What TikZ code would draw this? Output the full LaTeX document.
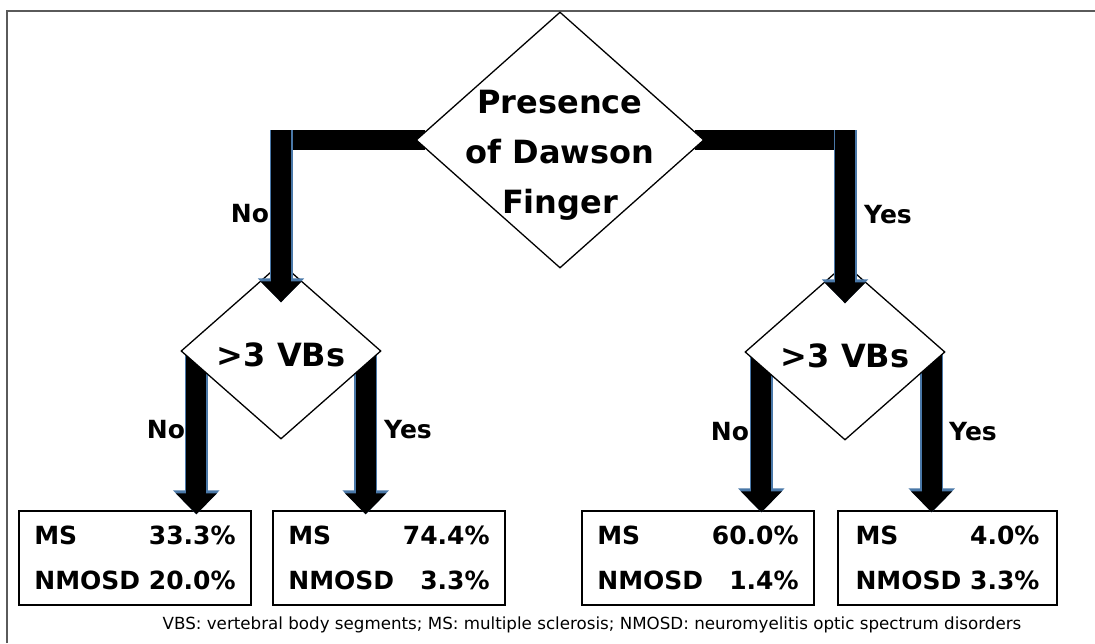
\documentclass[tikz,border=0pt]{standalone}
\usepackage{fontspec}
\setmainfont{DejaVu Sans}
\usetikzlibrary{arrows.meta,shapes.geometric,calc}

\definecolor{rimblue}{HTML}{4A78A8}
\definecolor{framegray}{HTML}{5A5A5A}

\pgfdeclarelayer{back}
\pgfsetlayers{back,main}

\tikzset{
  decision/.style={diamond, draw, fill=white, line width=1.3pt, inner sep=0pt},
  result/.style={draw, line width=1.3pt, minimum height=94pt, inner sep=0pt,
    font=\bfseries\fontsize{25}{45}\selectfont},
  ask/.style={font=\bfseries\fontsize{32}{50}\selectfont, align=center},
  answer/.style={font=\bfseries\fontsize{25}{30}\selectfont},
  bar/.style={line width=20pt, line cap=rect},
  flow/.style={line width=20pt, -{Triangle[width=40pt,length=21pt]},
    preaction={draw=rimblue, line width=23pt, -{Triangle[width=45pt,length=24pt]}}},
}

\begin{document}
\begin{tikzpicture}[x=1pt, y=-1pt]
  \useasboundingbox (0,0) rectangle (1095,643);
  \draw[framegray, line width=2pt] (7,643) -- (7,11) -- (1095,11);

  % decisions
  \node[decision, minimum width=288pt, minimum height=256pt] (dawson) at (560,140) {};
  \node[ask] (dawsontxt) at ($(dawson)+(0,15)$) {Presence\\of Dawson\\Finger};
  \node[decision, minimum width=200pt, minimum height=176pt] (vbsL) at (281,351) {};
  \node[ask] (vbsLtxt) at ($(vbsL)+(0,4)$) {>3 VBs};
  \node[decision, minimum width=200pt, minimum height=176pt] (vbsR) at (845,352) {};
  \node[ask] (vbsRtxt) at ($(vbsR)+(0,4)$) {>3 VBs};

  \coordinate (kneeL) at (dawson.west -| vbsL.north);
  \coordinate (kneeR) at (dawson.east -| vbsR.north);
  \coordinate (stemA) at ($(vbsL.west)+(16,0)$);
  \coordinate (stemB) at ($(vbsL.east)+(-16,0)$);
  \coordinate (stemC) at ($(vbsR.west)+(17,0)$);
  \coordinate (stemD) at ($(vbsR.east)+(-14,0)$);

  \begin{pgfonlayer}{back}
    % outcomes
    \node[result, minimum width=232pt] (outA) at (135,558)
      {\begin{tabular}{@{}l@{\hspace{.35em}}r@{}}MS & 33.3\%\\NMOSD & 20.0\%\end{tabular}};
    \node[result, minimum width=232pt] (outB) at (389,558)
      {\begin{tabular}{@{}l@{\hspace{.35em}}r@{}}MS & 74.4\%\\NMOSD & 3.3\%\end{tabular}};
    \node[result, minimum width=232pt] (outC) at (698,558)
      {\begin{tabular}{@{}l@{\hspace{.35em}}r@{}}MS & 60.0\%\\NMOSD & 1.4\%\end{tabular}};
    \node[result, minimum width=219pt] (outD) at (947.5,558)
      {\begin{tabular}{@{}l@{\hspace{.35em}}r@{}}MS & 4.0\%\\NMOSD & 3.3\%\end{tabular}};

    \draw[bar] (dawson.west) -- (kneeL);
    \draw[bar] (dawson.east) -- (kneeR);
    \draw[flow, shorten >=-4pt] (stemA) -- (stemA |- outA.north);
    \draw[flow, shorten >=-4pt] (stemB) -- (stemB |- outB.north);
    \draw[flow, shorten >=-2pt] (stemC) -- (stemC |- outC.north);
    \draw[flow, shorten >=-2pt] (stemD) -- (stemD |- outD.north);
  \end{pgfonlayer}

  \draw[flow, shorten <=-10pt, shorten >=-40pt] (kneeL) -- (vbsL.north);
  \draw[flow, shorten <=-10pt, shorten >=-40pt] (kneeR) -- (vbsR.north);

  % branch labels
  \node[answer] (noTop) at (250,214) {No};
  \node[answer] (yesTop) at (888,215) {Yes};
  \node[answer] (noL) at (166,430) {No};
  \node[answer] (yesL) at (408,430) {Yes};
  \node[answer] (noR) at (730,432) {No};
  \node[answer] (yesR) at (973,432) {Yes};

  \node[font=\fontsize{16.7}{20}\selectfont] (legend) at (592,625)
    {VBS: vertebral body segments; MS: multiple sclerosis; NMOSD: neuromyelitis optic spectrum disorders};
\end{tikzpicture}
\end{document}
